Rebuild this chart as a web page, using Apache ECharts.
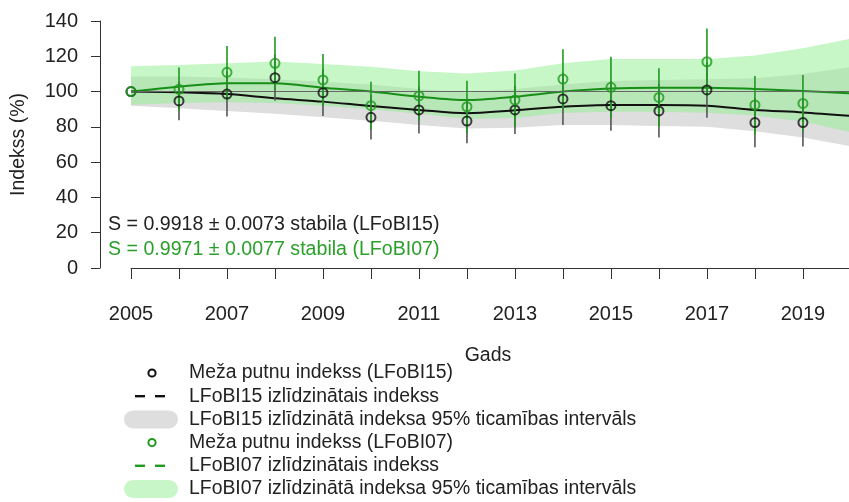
<!DOCTYPE html>
<html>
<head>
<meta charset="utf-8">
<script src="https://cdn.jsdelivr.net/npm/echarts@6/dist/echarts.min.js"></script>
<style>
  html, body { margin: 0; padding: 0; background: #fff; }
  #chart { width: 849px; height: 502px; }
</style>
</head>
<body>
<div id="chart"></div>
<script>
// survey years
const years = [2005, 2006, 2007, 2008, 2009, 2010, 2011, 2012, 2013, 2014, 2015, 2016, 2017, 2018, 2019]
// Meža putnu indekss (LFoBI15) and its error bars
const idx15 = [100, 94.7, 98.6, 107.9, 99.4, 85.4, 89.6, 83.3, 89.6, 95.8, 92.0, 89.0, 100.9, 82.4, 82.4]
const lo15 = [null, 83.7, 85.8, 94.8, 86.2, 72.9, 76.3, 70.7, 75.9, 81.0, 77.8, 73.9, 85.2, 68.4, 68.8]
const hi15 = [null, 105.7, 111.4, 121.0, 112.6, 97.9, 102.9, 95.9, 103.3, 110.6, 106.2, 104.1, 116.6, 96.4, 96.0]
// Meža putnu indekss (LFoBI07) and its error bars
const idx07 = [100, 101.3, 110.9, 116.0, 106.6, 92.0, 97.5, 91.4, 95.2, 107.1, 102.4, 96.7, 116.9, 92.4, 93.3]
const lo07 = [null, 89.0, 95.9, 101.0, 91.9, 78.4, 83.5, 76.6, 80.2, 90.1, 85.0, 80.2, 97.9, 76.0, 77.3]
const hi07 = [null, 113.7, 125.8, 131.1, 121.3, 105.6, 111.8, 106.2, 110.3, 124.0, 119.8, 113.2, 135.8, 108.8, 109.4]

// smoothed indices with 95% intervals
const trendYears = [2005, 2006, 2007, 2008, 2009, 2010, 2011, 2012, 2013, 2014, 2015, 2016, 2017, 2018, 2019, 2020]
const trend15 = [100, 99.6, 98.6, 96.2, 94.3, 91.8, 89.6, 87.7, 89.4, 91.4, 92.4, 92.4, 92.0, 89.6, 88.2, 86.2]
const ci15Lo = [92, 90.5, 89, 87.5, 85.5, 83.5, 81, 79, 79.5, 81, 81, 80.5, 80, 77.5, 74, 69]
const ci15Hi = [108.5, 108.5, 108, 107, 105.5, 104, 101.5, 99.5, 101.5, 104, 106, 106.5, 107, 107.5, 110, 114]
const trend07 = [100, 102.8, 104.7, 104.7, 102.2, 100, 97.1, 95.2, 97.1, 100, 101.8, 102.2, 102.2, 101.5, 100.3, 99]
const ci07Lo = [92.5, 93.5, 94, 93.5, 92, 90, 87.5, 84.5, 85, 88, 88.5, 88.5, 88, 86.5, 83, 77]
const ci07Hi = [114.4, 115, 116, 117, 115.6, 114, 111.5, 110.3, 112, 116, 118.5, 118.5, 118.5, 120.5, 124.5, 130]

const yTicks = [0, 20, 40, 60, 80, 100, 120, 140]

const FONT = 'Liberation Sans, Arial, sans-serif'
const BLACK = '#111111'
const GREEN = '#1e9a1e'
const GREY_BAR = '#555555'
const GREY_BAND = '#dedede'
const GREEN_BAND = 'rgba(144,238,144,0.5)'

const pairs = (xs, ys) => xs.map((x, i) => [x, ys[i]])
const bars = (lo, hi) => years.map((y, i) => [y, lo[i], hi[i]]).filter(d => d[1] != null)

// confidence band as one polygon, drawn once for the whole series
function bandSeries(lo, hi, color, z) {
  return {
    type: 'custom', z: z, silent: true, clip: true,
    data: trendYears.map((y, i) => [y, lo[i], hi[i]]),
    encode: { x: 0, y: [1, 2] },
    renderItem(params, api) {
      if (params.dataIndex !== 0) return null
      const upper = trendYears.map((y, i) => api.coord([y, hi[i]]))
      const lower = trendYears.map((y, i) => api.coord([y, lo[i]])).reverse()
      return {
        type: 'polygon',
        shape: { points: upper.concat(lower) },
        style: { fill: color }
      }
    }
  }
}

function barSeries(data, color, z) {
  return {
    type: 'custom', data: data, z: z, silent: true,
    encode: { x: 0, y: [1, 2] },
    renderItem(params, api) {
      const p1 = api.coord([api.value(0), api.value(1)])
      const p2 = api.coord([api.value(0), api.value(2)])
      return {
        type: 'line',
        shape: { x1: p1[0], y1: p1[1], x2: p2[0], y2: p2[1] },
        style: { stroke: color, lineWidth: 1.6 }
      }
    }
  }
}

function pointSeries(data, color, z) {
  return {
    type: 'scatter', data: data, symbol: 'circle', symbolSize: 9, z: z, silent: true,
    itemStyle: { color: 'rgba(0,0,0,0)', borderColor: color, borderWidth: 2 }
  }
}

// legend rows drawn as graphic elements
const legendRows = [
  { kind: 'point', color: BLACK, text: 'Meža putnu indekss (LFoBI15)' },
  { kind: 'dash', color: BLACK, text: 'LFoBI15 izlīdzinātais indekss' },
  { kind: 'band', color: GREY_BAND, text: 'LFoBI15 izlīdzinātā indeksa 95% ticamības intervāls' },
  { kind: 'point', color: GREEN, text: 'Meža putnu indekss (LFoBI07)' },
  { kind: 'dash', color: GREEN, text: 'LFoBI07 izlīdzinātais indekss' },
  { kind: 'band', color: '#c8f6c8', text: 'LFoBI07 izlīdzinātā indeksa 95% ticamības intervāls' }
]

function legendGraphics() {
  const out = []
  const cx = 152
  legendRows.forEach((r, i) => {
    const y = 373 + i * 23.2
    if (r.kind === 'point') {
      out.push({ type: 'circle', shape: { cx: cx, cy: y, r: 3.6 }, style: { fill: 'none', stroke: r.color, lineWidth: 2 } })
    } else if (r.kind === 'dash') {
      out.push({ type: 'rect', shape: { x: 135, y: y - 1.2, width: 10, height: 2.4 }, style: { fill: r.color } })
      out.push({ type: 'rect', shape: { x: 155, y: y - 1.2, width: 10, height: 2.4 }, style: { fill: r.color } })
    } else {
      out.push({ type: 'rect', shape: { x: 124, y: y - 9, width: 54, height: 18, r: 9 }, style: { fill: r.color } })
    }
    out.push({
      type: 'text', x: 189, y: y,
      style: { text: r.text, fill: '#222', font: '19.4px ' + FONT, textVerticalAlign: 'middle' }
    })
  })
  return out
}

const chart = echarts.init(document.getElementById('chart'), null, { renderer: 'canvas' })
chart.setOption({
  backgroundColor: '#ffffff',
  animation: false,
  textStyle: { fontFamily: FONT },
  grid: { left: 131, right: 0, top: 21, bottom: 234, outerBoundsMode: 'none', containLabel: false },
  xAxis: {
    type: 'value',
    min: 2005,
    max: 2019.96,
    interval: 1,
    offset: 10,
    axisLine: { show: true, lineStyle: { color: '#333', width: 1 } },
    axisTick: { show: true, length: 11, lineStyle: { color: '#333', width: 1 } },
    axisLabel: {
      fontSize: 20, color: '#222', margin: 26, showMaxLabel: false,
      formatter: v => ((v - 2005) % 2 === 0 ? String(v) : '')
    },
    splitLine: { show: false }
  },
  yAxis: {
    type: 'value',
    min: yTicks[0],
    max: yTicks[yTicks.length - 1],
    interval: 20,
    offset: 31,
    name: 'Indekss (%)',
    nameLocation: 'middle',
    nameGap: 71,
    nameTextStyle: { fontSize: 19.5, color: '#222' },
    axisLine: { show: true, lineStyle: { color: '#333', width: 1 } },
    axisTick: { show: true, length: 9, lineStyle: { color: '#333', width: 1 } },
    axisLabel: { fontSize: 20, color: '#222', margin: 22 },
    splitLine: { show: false }
  },
  graphic: [
    { type: 'text', x: 108, y: 225, style: { text: 'S = 0.9918 ± 0.0073 stabila (LFoBI15)', fill: '#222', font: '19.6px ' + FONT, textVerticalAlign: 'middle' } },
    { type: 'text', x: 108, y: 250, style: { text: 'S = 0.9971 ± 0.0077 stabila (LFoBI07)', fill: '#2aa02a', font: '19.6px ' + FONT, textVerticalAlign: 'middle' } },
    { type: 'text', x: 488, y: 356, style: { text: 'Gads', fill: '#222', font: '19.5px ' + FONT, textAlign: 'center', textVerticalAlign: 'middle' } }
  ].concat(legendGraphics()),
  series: [
    bandSeries(ci15Lo, ci15Hi, GREY_BAND, 1),
    bandSeries(ci07Lo, ci07Hi, GREEN_BAND, 2),
    {
      name: 'LFoBI15 izlīdzinātais indekss', type: 'line', data: pairs(trendYears, trend15),
      symbol: 'none', smooth: 0.3, z: 4, silent: true,
      lineStyle: { color: BLACK, width: 2 },
      markLine: {
        silent: true, symbol: 'none', label: { show: false },
        lineStyle: { color: '#666', width: 1, type: 'solid' },
        data: [{ yAxis: 100 }]
      }
    },
    {
      name: 'LFoBI07 izlīdzinātais indekss', type: 'line', data: pairs(trendYears, trend07),
      symbol: 'none', smooth: 0.3, z: 4, silent: true,
      lineStyle: { color: '#178f17', width: 2 }
    },
    barSeries(bars(lo15, hi15), GREY_BAR, 5),
    barSeries(bars(lo07, hi07), GREEN, 6),
    pointSeries(pairs(years, idx15), BLACK, 7),
    pointSeries(pairs(years, idx07), GREEN, 8)
  ]
})
</script>
</body>
</html>
